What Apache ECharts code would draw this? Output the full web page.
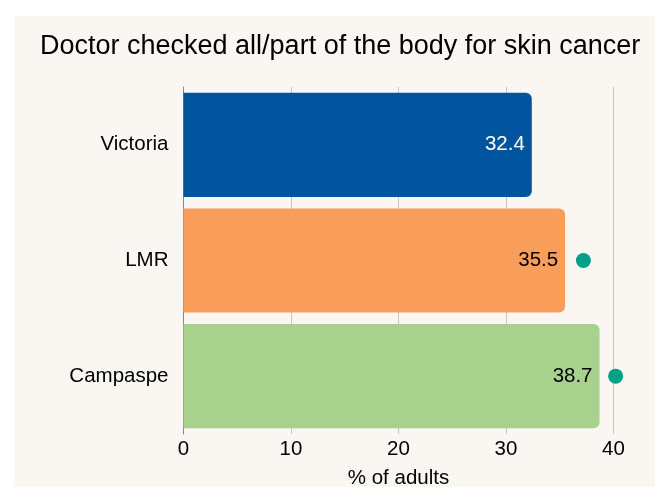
<!DOCTYPE html>
<html>
<head>
<meta charset="utf-8">
<script src="https://cdn.jsdelivr.net/npm/echarts@6/dist/echarts.min.js"></script>
<style>
  html, body { margin: 0; padding: 0; background: #ffffff; }
  #chart {
    position: absolute;
    left: 14px;
    top: 16px;
    width: 641px;
    height: 471px;
    background: #faf7f2;
  }
</style>
</head>
<body>
<div id="chart"></div>
<script>
// data
const regions = ['Victoria', 'LMR', 'Campaspe'];
const barValues = [32.4, 35.5, 38.7];
const barColors = ['#00559e', '#f99e5a', '#a9d18e'];
const labelColors = ['#ffffff', '#000000', '#000000'];
// markers shown next to the local bars (none for Victoria)
const markerValues = [null, 37.2, 40.2];
const xTicks = [0, 10, 20, 30, 40];

let chart = echarts.init(document.getElementById('chart'), null, { renderer: 'canvas' });

let option = {
  animation: false,
  backgroundColor: 'transparent',
  textStyle: { fontFamily: 'Liberation Sans, Arial, sans-serif' },
  title: {
    text: 'Doctor checked all/part of the body for skin cancer',
    left: 21,
    top: 12,
    textStyle: {
      fontSize: 27,
      fontWeight: 'normal',
      color: '#000',
      fontFamily: 'Liberation Sans, Arial, sans-serif'
    }
  },
  grid: {
    left: 169.5,
    right: 41.5,
    top: 71,
    bottom: 53,
    containLabel: false,
    outerBoundsMode: 'none'
  },
  xAxis: {
    type: 'value',
    min: xTicks[0],
    max: xTicks[xTicks.length - 1],
    interval: 10,
    name: '% of adults',
    nameLocation: 'middle',
    nameGap: 34,
    nameTextStyle: { fontSize: 20.5, color: '#000' },
    axisLine: { show: false },
    axisTick: { show: false },
    axisLabel: { fontSize: 20.5, color: '#000', margin: 5 },
    splitLine: { lineStyle: { color: '#c9c5c0', width: 1 } }
  },
  yAxis: {
    type: 'category',
    inverse: true,
    data: regions,
    axisLine: { show: true, lineStyle: { color: '#8a8580', width: 1 } },
    axisTick: { show: false },
    axisLabel: { fontSize: 20.5, color: '#000', margin: 15 }
  },
  series: [
    {
      type: 'bar',
      barCategoryGap: '10%',
      data: barValues.map((v, i) => ({
        value: v,
        itemStyle: { color: barColors[i], borderRadius: [0, 6, 6, 0] },
        label: { color: labelColors[i] }
      })),
      label: {
        show: true,
        position: 'insideRight',
        distance: 7,
        fontSize: 20.5,
        formatter: p => p.value.toFixed(1)
      },
      z: 2
    },
    {
      type: 'scatter',
      clip: false,
      data: markerValues.map((v, i) => (v === null ? null : [v, regions[i]])),
      symbol: 'circle',
      symbolSize: 15,
      itemStyle: { color: '#00a088', opacity: 1 },
      z: 3
    }
  ]
};

chart.setOption(option);
</script>
</body>
</html>
